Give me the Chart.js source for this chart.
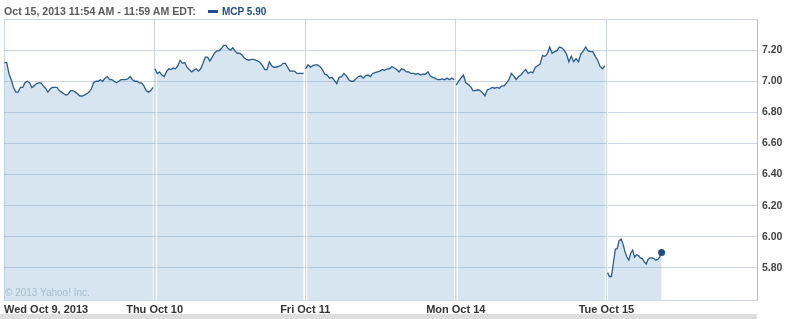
<!DOCTYPE html>
<html>
<head>
<meta charset="utf-8">
<script src="https://cdn.jsdelivr.net/npm/chart.js@4.4.1/dist/chart.umd.min.js"></script>
<style>
  html, body { margin: 0; padding: 0; background: #fff; overflow: hidden; }
  #wrap { position: relative; width: 786px; height: 319px; }
  canvas { position: absolute; left: 0; top: 0; }
  .hdr { position: absolute; top: 5px; font: bold 10.6px "Liberation Sans", Arial, sans-serif; line-height: 13px; white-space: nowrap; }
  #when { left: 4px; color: #5a5a5a; }
  #swatch { position: absolute; left: 208px; top: 10px; width: 10px; height: 3px; background: #1f4e8a; }
  #sym { left: 222px; color: #1f4e8a; font-size: 10px; }
  #copy { position: absolute; left: 5px; top: 287px; font: 10px "Liberation Sans", Arial, sans-serif; color: #a8bccc; white-space: nowrap; }
  #bar { position: absolute; left: 0; top: 314px; width: 757px; height: 5px; background: #dedede; }
</style>
</head>
<body>
<div id="wrap">
  <canvas id="chart-mcp" width="786" height="319"></canvas>
  <div class="hdr" id="when">Oct 15, 2013 11:54 AM - 11:59 AM EDT:</div>
  <div id="swatch"></div>
  <div class="hdr" id="sym">MCP 5.90</div>
  <div id="copy">© 2013 Yahoo! Inc.</div>
  <div id="bar"></div>
</div>
<script>
// 5 trading days, minutes since 9:30 open (390 min per session)
const xLabels = ['Wed Oct 9, 2013', 'Thu Oct 10', 'Fri Oct 11', 'Mon Oct 14', 'Tue Oct 15', ''];
const yTicks = [5.80, 6.00, 6.20, 6.40, 6.60, 6.80, 7.00, 7.20, 7.40];

const wed = [7.12, 7.12, 7.05, 7.01, 6.96, 6.93, 6.93, 6.96, 6.96, 6.99, 7.00, 6.99, 6.96, 6.97, 6.985, 6.99,
    6.99, 6.97, 6.955, 6.93, 6.95, 6.96, 6.96, 6.96, 6.94, 6.93, 6.92, 6.91, 6.92, 6.94, 6.94, 6.93, 6.92,
    6.905, 6.905, 6.91, 6.92, 6.93, 6.95, 6.99, 7.00, 7.00, 7.01, 7.00, 7.02, 7.03, 7.01, 7.01, 7.00, 6.99,
    7.00, 7.01, 7.01, 7.01, 7.015, 7.03, 7.01, 7.00, 7.00, 6.99, 6.99, 6.97, 6.94, 6.93, 6.94, 6.96];

const thu = [7.08, 7.05, 7.06, 7.04, 7.03, 7.06, 7.08, 7.075, 7.085, 7.08, 7.10, 7.135, 7.115, 7.12, 7.09,
    7.075, 7.06, 7.07, 7.08, 7.065, 7.08, 7.115, 7.155, 7.155, 7.13, 7.155, 7.18, 7.195, 7.195, 7.21, 7.23,
    7.23, 7.21, 7.20, 7.215, 7.195, 7.18, 7.18, 7.17, 7.15, 7.14, 7.135, 7.14, 7.14, 7.135, 7.13, 7.12, 7.10,
    7.075, 7.075, 7.125, 7.10, 7.09, 7.09, 7.095, 7.10, 7.115, 7.115, 7.09, 7.065, 7.065, 7.065, 7.05, 7.05,
    7.05, 7.05];

const fri = [7.08, 7.105, 7.09, 7.10, 7.105, 7.105, 7.095, 7.075, 7.045, 7.04, 7.02, 7.025, 7.005, 6.985,
    7.025, 7.03, 7.05, 7.035, 7.01, 7.00, 7.00, 7.015, 7.03, 7.035, 7.02, 7.035, 7.04, 7.03, 7.05, 7.055,
    7.06, 7.065, 7.075, 7.07, 7.08, 7.08, 7.095, 7.085, 7.075, 7.06, 7.08, 7.075, 7.06, 7.06, 7.05, 7.05,
    7.045, 7.05, 7.04, 7.045, 7.045, 7.06, 7.035, 7.025, 7.02, 7.01, 7.01, 7.015, 7.01, 7.02, 7.01, 7.02, 7.01];

const mon = [6.975, 7.00, 7.02, 7.04, 6.99, 6.98, 6.965, 6.94, 6.94, 6.945, 6.94, 6.925, 6.905, 6.945, 6.95,
    6.96, 6.955, 6.96, 6.955, 6.97, 6.97, 6.99, 7.01, 7.05, 7.035, 7.01, 7.03, 7.04, 7.06, 7.075, 7.05, 7.06,
    7.055, 7.09, 7.10, 7.11, 7.165, 7.16, 7.175, 7.22, 7.18, 7.19, 7.195, 7.22, 7.215, 7.20, 7.175, 7.125,
    7.16, 7.125, 7.145, 7.125, 7.175, 7.195, 7.22, 7.195, 7.19, 7.19, 7.16, 7.135, 7.095, 7.08, 7.10];

// 5-minute bars from the open, last one 11:55
const tue = [5.77, 5.745, 5.745, 5.83, 5.92, 5.925, 5.975, 5.985, 5.955, 5.905, 5.87, 5.85, 5.895, 5.915,
    5.87, 5.885, 5.88, 5.865, 5.86, 5.84, 5.825, 5.855, 5.865, 5.865, 5.86, 5.85, 5.855, 5.87, 5.90];

const SESSION = 390;
const fullDays = [wed, thu, fri, mon];

// build {x,y} points, with a null between sessions so line and fill break
const points = [];
fullDays.forEach((day, d) => {
    day.forEach((v, i) => {
        points.push({ x: d * SESSION + 1 + i * 385 / (day.length - 1), y: v });
    });
    points.push({ x: d * SESSION + 388, y: null });
});
tue.forEach((v, i) => {
    points.push({ x: 4 * SESSION + 3 + i * 5, y: v });
});
const lastIdx = points.length - 1;

const GRID = 'rgba(110, 150, 185, 0.36)';
const LABEL_FONT = { family: '"Liberation Sans", Arial, sans-serif', size: 11, weight: 'bold' };

// white rule beside each session divider, visible only over the fill
const dividerPlugin = {
    id: 'dividers',
    beforeDatasetsDraw(chart) {
        const { ctx, chartArea, scales } = chart;
        ctx.save();
        ctx.strokeStyle = '#ffffff';
        ctx.lineWidth = 1;
        for (let d = 1; d <= 4; d++) {
            const px = Math.round(scales.x.getPixelForValue(d * SESSION)) + 1.5;
            ctx.beginPath();
            ctx.moveTo(px, chartArea.top);
            ctx.lineTo(px, chartArea.bottom);
            ctx.stroke();
        }
        ctx.restore();
    }
};

new Chart(document.getElementById('chart-mcp'), {
    type: 'line',
    data: {
        datasets: [{
            label: 'MCP',
            data: points,
            borderColor: '#2a5b91',
            borderWidth: 1.3,
            backgroundColor: '#d6e5f0',
            fill: 'start',
            spanGaps: false,
            tension: 0,
            pointRadius: (c) => c.dataIndex === lastIdx ? 3.5 : 0,
            pointBackgroundColor: '#1d4f85',
            pointBorderWidth: 0,
        }]
    },
    options: {
        responsive: false,
        animation: false,
        layout: { padding: { left: 3, top: 19, right: 0, bottom: 0 } },
        plugins: {
            legend: { display: false },
            tooltip: { enabled: false },
            filler: { drawTime: 'beforeDraw' }
        },
        scales: {
            x: {
                type: 'linear',
                min: 0,
                max: SESSION * 5,
                afterBuildTicks: (s) => { s.ticks = xLabels.map((_, i) => ({ value: i * SESSION })); },
                afterFit: (s) => { s.height = 19; },
                ticks: {
                    autoSkip: false,
                    maxRotation: 0,
                    align: 'inner',
                    padding: 3,
                    color: '#333333',
                    font: LABEL_FONT,
                    callback: (v, i) => xLabels[i]
                },
                grid: { color: GRID, drawTicks: false },
                border: { display: true, color: GRID }
            },
            y: {
                position: 'right',
                min: 5.594,
                max: 7.40,
                afterBuildTicks: (s) => { s.ticks = yTicks.map(v => ({ value: v })); },
                afterFit: (s) => { s.width = 29; },
                ticks: {
                    padding: 5,
                    color: '#444444',
                    font: { family: '"Liberation Sans", Arial, sans-serif', size: 10.5, weight: 'bold' },
                    callback: (v) => v > 7.3 ? '' : v.toFixed(2)
                },
                grid: { color: GRID, drawTicks: false },
                border: { display: true, color: GRID }
            }
        }
    },
    plugins: [dividerPlugin]
});
</script>
</body>
</html>
